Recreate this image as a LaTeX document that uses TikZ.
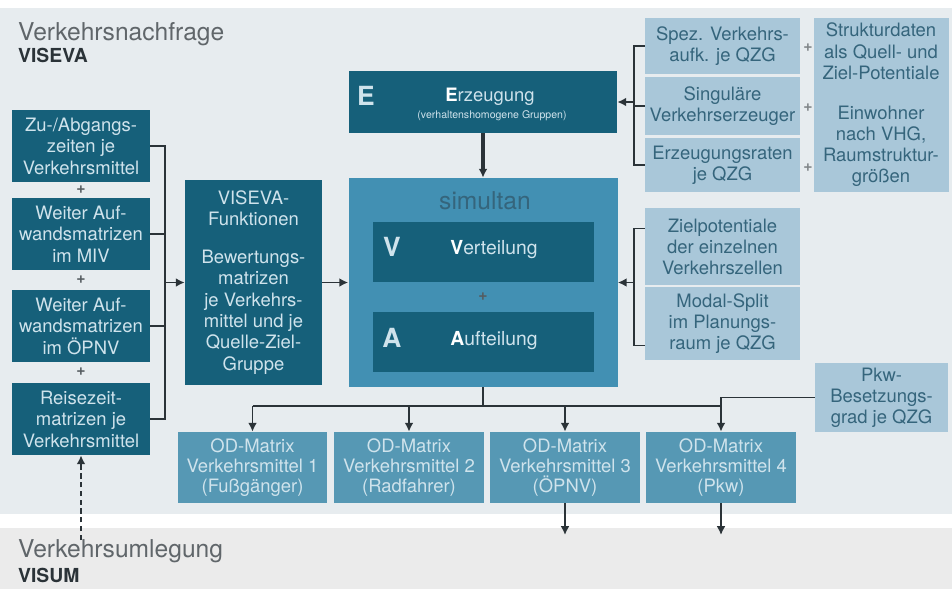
\documentclass[tikz,border=0pt]{standalone}
\usepackage{fontspec}
\setmainfont{TeX Gyre Heros}
\usepackage{xcolor}
\usepackage{tikz}
\usetikzlibrary{arrows.meta,calc,positioning}

\definecolor{panel}{HTML}{E7ECEF}
\definecolor{lowpanel}{HTML}{EBEBEB}
\definecolor{deep}{HTML}{16607A}
\definecolor{mid}{HTML}{4290B3}
\definecolor{odblue}{HTML}{5698B4}
\definecolor{pale}{HTML}{A9C7D9}
\definecolor{paletext}{HTML}{35657C}
\definecolor{boxtext}{HTML}{CFE3EC}
\definecolor{wire}{HTML}{2B3338}

\tikzset{
  boxsize/.style 2 args={minimum width=#1*0.02cm, minimum height=#2*0.02cm},
  deepbox/.style={fill=deep, text=boxtext, align=center, inner sep=1pt,
    font=\fontsize{10.5}{12.2}\selectfont},
  odbox/.style={deepbox, fill=odblue, font=\fontsize{10.5}{11.6}\selectfont},
  palebox/.style={fill=pale, text=paletext, align=center, inner sep=1pt,
    font=\fontsize{10.5}{12}\selectfont},
  wire/.style={draw=wire, line width=1pt},
  tip/.style={wire, -{Latex[length=5pt,width=5pt]}},
  plus/.style={text=wire!80, font=\bfseries\fontsize{9}{9}\selectfont},
  letter/.style={text=boxtext, font=\bfseries\fontsize{15}{15}\selectfont},
  inner/.style={text=boxtext, font=\fontsize{10.5}{10.5}\selectfont}
}

\begin{document}
\begin{tikzpicture}[x=0.02cm, y=-0.02cm]

  \useasboundingbox (0,0) rectangle (952,589);
  \fill[white] (0,0) rectangle (952,589);
  \fill[panel] (0,8) rectangle (952,514);
  \fill[lowpanel] (0,528) rectangle (952,589);

  % headings
  \node[anchor=base west, text=wire!75, font=\fontsize{14}{14}\selectfont] (nf) at (12,40) {Verkehrsnachfrage};
  \node[anchor=base west, text=wire, font=\bfseries\fontsize{11}{11}\selectfont] (viseva) at (12,62) {VISEVA};
  \node[anchor=base west, text=wire!75, font=\fontsize{14}{14}\selectfont] (ul) at (12,557) {Verkehrsumlegung};
  \node[anchor=base west, text=wire, font=\bfseries\fontsize{11}{11}\selectfont] (visum) at (12,582) {VISUM};

  % left column
  \node[deepbox, boxsize={138}{72}] (L1) at (81,146) {Zu-/Abgangs-\\zeiten je\\Verkehrsmittel};
  \node[deepbox, boxsize={138}{72}] (L2) at (81,234) {Weiter Auf-\\wandsmatrizen\\im MIV};
  \node[deepbox, boxsize={138}{72}] (L3) at (81,326) {Weiter Auf-\\wandsmatrizen\\im ÖPNV};
  \node[deepbox, boxsize={138}{72}] (L4) at (81,419) {Reisezeit-\\matrizen je\\Verkehrsmittel};
  \foreach \y in {190,280,372}
    \node[plus] at (81,\y) {+};

  \node[deepbox, boxsize={137}{205}] (vf) at (253.5,282.5)
    {VISEVA-\\Funktionen\\[9pt]Bewertungs-\\matrizen\\je Verkehrs-\\mittel und je\\Quelle-Ziel-\\Gruppe};

  \coordinate (lbus) at (165,0);
  \draw[wire] (L1.east) -- (L1.east -| lbus) -- (L4.east -| lbus) -- (L4.east);
  \draw[wire] (L2.east) -- (L2.east -| lbus);
  \draw[wire] (L3.east) -- (L3.east -| lbus);
  \draw[tip] (vf.west -| lbus) -- (vf.west);

  \coordinate (vin) at (81,540);
  \draw[tip, densely dashed] (vin) -- (L4.south);

  % E, V, A
  \node[deepbox, boxsize={268}{62}] (E) at (483,102) {};
  \node[letter] (Ebig) at (366,96) {E};
  \node[inner] (Etxt) at (490,97) {\textbf{\color{white}E}rzeugung};
  \node[text=boxtext, font=\fontsize{6}{6}\selectfont] (Esub) at (492,116) {(verhaltenshomogene Gruppen)};

  \node[fill=mid, boxsize={269}{209}] (sim) at (483,282.5) {};
  \node[text=paletext, font=\fontsize{14}{14}\selectfont] (simlbl) at (485,201) {simultan};
  \node[deepbox, boxsize={221}{60}] (V) at (483.5,252) {};
  \node[letter] (Vbig) at (392,247) {V};
  \node[inner, font=\fontsize{11}{11}\selectfont] (Vtxt) at (494,250) {\textbf{\color{white}V}erteilung};
  \node[plus] at (483,297) {+};
  \node[deepbox, boxsize={221}{60}] (A) at (483.5,342) {};
  \node[letter] (Abig) at (392,338) {A};
  \node[inner, font=\fontsize{11}{11}\selectfont] (Atxt) at (494,341) {\textbf{\color{white}A}ufteilung};

  \draw[tip, line width=1.8pt] (E.south) -- (sim.north);
  \draw[tip] (vf.east) -- (sim.west);

  % right side inputs
  \node[palebox, boxsize={155}{56}] (R1) at (722.5,46) {Spez. Verkehrs-\\aufk. je QZG};
  \node[palebox, boxsize={155}{58}] (R2) at (722.5,106) {Singuläre\\Verkehrserzeuger};
  \node[palebox, boxsize={155}{54}] (R3) at (722.5,165) {Erzeugungsraten\\je QZG};
  \node[palebox, boxsize={135}{174}] (S) at (881,105)
    {Strukturdaten\\als Quell- und\\Ziel-Potentiale\\[11pt]Einwohner\\nach VHG,\\Raumstruktur-\\größen};
  \foreach \y in {48,108,168}
    \node[plus, text=wire!60] at (808,\y) {+};

  \coordinate (rbus) at (634,0);
  \draw[wire] (R1.west) -- (R1.west -| rbus) -- (R3.west -| rbus) -- (R3.west);
  \draw[wire] (R2.west) -- (R2.west -| rbus);
  \draw[tip] (E.east -| rbus) -- (E.east);

  \node[palebox, boxsize={155}{77}] (Z) at (722.5,246.5) {Zielpotentiale\\der einzelnen\\Verkehrszellen};
  \node[palebox, boxsize={155}{73}] (M) at (722.5,323.5) {Modal-Split\\im Planungs-\\raum je QZG};
  \draw[wire] ($(Z.west)+(0,-18)$) -- ($(Z.west -| rbus)+(0,-18)$) -- ($(M.west -| rbus)+(0,22)$) -- ($(M.west)+(0,22)$);
  \draw[tip] (sim.east -| rbus) -- (sim.east);

  \node[palebox, boxsize={133}{69}] (pkw) at (881.5,397.5) {Pkw-\\Besetzungs-\\grad je QZG};

  % OD matrices
  \node[odbox, boxsize={149}{71}] (od1) at (252.5,467.5) {OD-Matrix\\Verkehrsmittel 1\\(Fußgänger)};
  \node[odbox, boxsize={150}{71}] (od2) at (409,467.5) {OD-Matrix\\Verkehrsmittel 2\\(Radfahrer)};
  \node[odbox, boxsize={150}{71}] (od3) at (565,467.5) {OD-Matrix\\Verkehrsmittel 3\\(ÖPNV)};
  \node[odbox, boxsize={150}{71}] (od4) at (721,467.5) {OD-Matrix\\Verkehrsmittel 4\\(Pkw)};

  \coordinate (bus) at (0,406);
  \draw[wire] (sim.south) -- (sim.south |- bus);
  \draw[wire] (od1.north |- bus) -- (od4.north |- bus);
  \foreach \n in {od1,od2,od3,od4}
    \draw[tip] (\n.north |- bus) -- (\n.north);
  \draw[wire] (pkw.west) -- (pkw.west -| od4.north) -- (od4.north |- bus);

  \coordinate (out3) at (565,535);
  \coordinate (out4) at (721,535);
  \draw[tip] (od3.south) -- (out3);
  \draw[tip] (od4.south) -- (out4);

\end{tikzpicture}
\end{document}
